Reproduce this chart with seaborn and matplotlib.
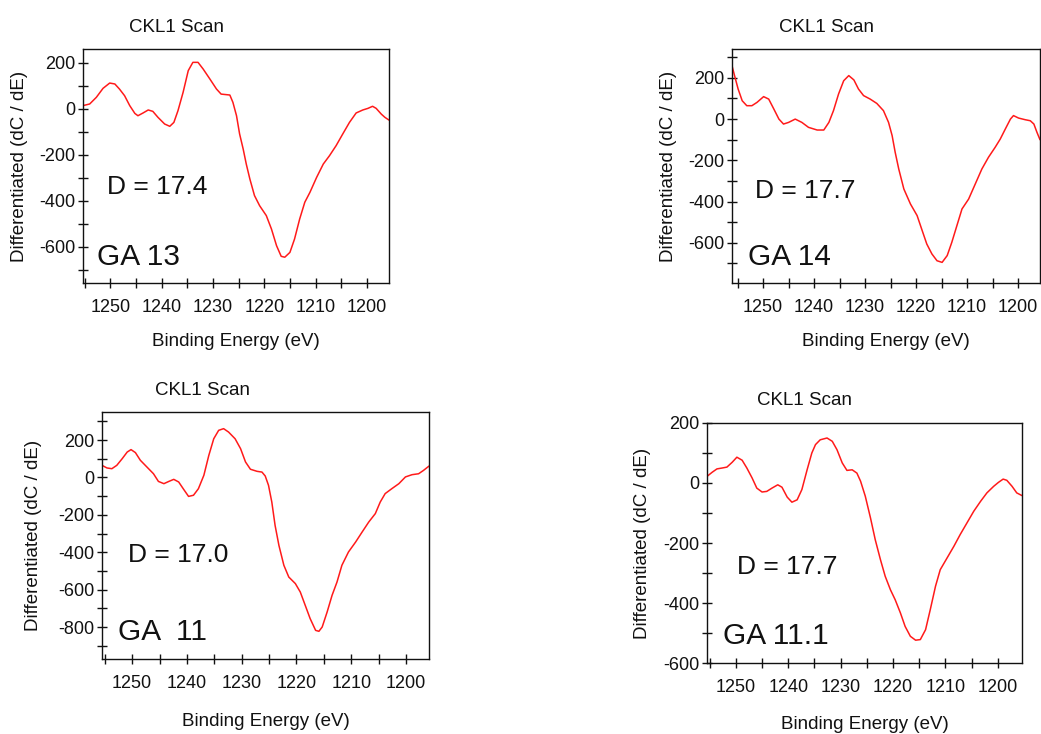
import numpy as np
import pandas as pd
import matplotlib
matplotlib.use("Agg")
import matplotlib.pyplot as plt
from matplotlib.ticker import MultipleLocator
import seaborn as sns

# ---------------- data ----------------
ga13_energy = [1255.3, 1254.0, 1252.7, 1251.4, 1250.1, 1249.1, 1248.2, 1247.2, 1246.2, 1245.2,
               1244.6, 1243.6, 1242.6, 1241.7, 1240.7, 1239.4, 1238.4, 1237.6, 1236.8, 1235.8,
               1234.8, 1233.9, 1232.9, 1231.9, 1230.6, 1229.3, 1228.4, 1226.7, 1226.1, 1225.4,
               1224.8, 1224.1, 1223.5, 1222.8, 1221.9, 1220.9, 1219.6, 1218.6, 1217.6, 1216.7,
               1216.0, 1215.0, 1214.1, 1213.1, 1212.1, 1211.1, 1209.8, 1208.5, 1207.3, 1206.0,
               1204.7, 1203.4, 1202.1, 1200.8, 1199.8, 1198.9, 1198.2, 1197.2, 1196.5, 1195.7]
ga13_signal = [14, 21, 50, 89, 112, 108, 86, 57, 14, -20,
               -30, -18, -5, -11, -37, -66, -76, -59, -8, 72,
               166, 202, 202, 173, 130, 86, 64, 60, 28, -30,
               -109, -175, -240, -305, -377, -421, -464, -522, -595, -641,
               -645, -624, -566, -479, -406, -363, -298, -240, -204, -160,
               -109, -59, -18, -5, 2, 11, 2, -23, -37, -49]

ga14_energy = [1256.1, 1255.6, 1254.9, 1254.1, 1253.2, 1252.2, 1251.2, 1249.9, 1248.9, 1247.9,
               1246.9, 1246.0, 1245.0, 1243.7, 1242.4, 1241.1, 1239.4, 1238.1, 1237.1, 1236.2,
               1235.2, 1234.2, 1233.2, 1232.2, 1231.3, 1230.3, 1229.0, 1227.7, 1226.4, 1225.4,
               1224.7, 1224.1, 1223.4, 1222.4, 1221.1, 1219.8, 1218.8, 1217.9, 1216.9, 1215.9,
               1214.9, 1213.9, 1213.0, 1212.0, 1211.0, 1209.7, 1208.4, 1207.1, 1205.8, 1204.5,
               1203.5, 1202.5, 1201.5, 1200.9, 1199.9, 1198.6, 1197.6, 1196.9, 1196.3, 1195.7]
ga14_signal = [259, 211, 146, 89, 65, 65, 81, 109, 97, 49,
               0, -24, -16, 0, -16, -40, -53, -53, -16, 41,
               122, 186, 211, 190, 146, 114, 97, 76, 41, -16,
               -80, -161, -242, -339, -412, -468, -541, -606, -654, -687,
               -695, -662, -598, -517, -436, -388, -315, -242, -185, -137,
               -97, -48, 0, 17, 5, -3, -8, -24, -64, -100]

ga11_energy = [1255.5, 1254.6, 1253.7, 1252.8, 1251.8, 1250.9, 1250.2, 1249.4, 1248.5, 1247.3,
               1246.1, 1245.2, 1244.2, 1243.3, 1242.4, 1241.5, 1240.6, 1239.7, 1238.8, 1237.9,
               1236.9, 1236.0, 1235.1, 1234.2, 1233.3, 1232.4, 1231.2, 1230.2, 1229.3, 1228.4,
               1227.2, 1226.3, 1225.7, 1225.1, 1224.5, 1223.9, 1223.2, 1222.3, 1221.4, 1220.2,
               1219.3, 1218.4, 1217.5, 1216.5, 1215.9, 1215.3, 1214.4, 1213.5, 1212.6, 1211.7,
               1210.5, 1209.2, 1208.0, 1206.8, 1205.6, 1204.7, 1203.8, 1202.6, 1201.3, 1200.1,
               1198.9, 1197.7, 1196.8, 1195.8]
ga11_signal = [65, 51, 47, 65, 101, 136, 149, 133, 92, 56,
               20, -21, -33, -21, -10, -24, -63, -101, -95, -60,
               12, 118, 207, 252, 261, 243, 207, 154, 83, 44,
               33, 29, 8, -42, -131, -256, -363, -469, -532, -567,
               -612, -683, -754, -817, -822, -799, -719, -630, -559, -469,
               -398, -345, -291, -238, -193, -131, -86, -60, -33, 3,
               15, 20, 38, 61]

ga111_energy = [1255.5, 1254.5, 1253.6, 1252.6, 1251.7, 1250.7, 1249.8, 1248.8, 1247.9, 1246.9,
                1246.0, 1245.0, 1244.1, 1243.1, 1242.0, 1241.2, 1240.2, 1239.3, 1238.3, 1237.4,
                1236.4, 1235.5, 1234.8, 1233.9, 1232.6, 1231.6, 1230.7, 1229.7, 1228.8, 1227.8,
                1226.9, 1226.2, 1225.3, 1224.3, 1223.4, 1222.4, 1221.5, 1220.5, 1219.6, 1218.6,
                1217.7, 1216.7, 1215.7, 1214.8, 1213.8, 1212.9, 1211.9, 1211.0, 1209.7, 1208.4,
                1207.2, 1205.9, 1204.6, 1203.3, 1202.1, 1200.8, 1199.9, 1199.0, 1198.3, 1197.3,
                1196.4, 1195.4]
ga111_signal = [22, 36, 47, 50, 53, 69, 86, 76, 50, 17,
                -17, -30, -28, -17, -6, -14, -47, -64, -56, -22,
                44, 100, 128, 144, 150, 139, 111, 67, 42, 44,
                33, 6, -44, -117, -189, -256, -311, -356, -389, -433,
                -478, -511, -524, -522, -489, -422, -344, -289, -250, -211,
                -172, -133, -94, -61, -33, -11, 2, 13, 9, -11,
                -33, -42]

sample_labels = ["GA 13", "GA 14", "GA  11", "GA 11.1"]
d_labels = ["D = 17.4", "D = 17.7", "D = 17.0", "D = 17.7"]
y_limits = [(-757, 260), (-795, 340), (-970, 350), (-600, 200)]
x_limits = [(1255.3, 1195.7), (1256.1, 1195.7), (1255.5, 1195.8), (1255.5, 1195.4)]

# ---------------- style ----------------
sns.set_style("white")
plt.rcParams["font.family"] = ["Liberation Sans", "DejaVu Sans"]
plt.rcParams["axes.unicode_minus"] = False
plt.rcParams["text.color"] = "#111111"
plt.rcParams["axes.labelcolor"] = "#111111"

W, H = 1041, 734
fig = plt.figure(figsize=(W / 100, H / 100), dpi=100)

# axes boxes in pixel coords: (left, right, top, bottom)
boxes = [(83, 389, 49, 283), (732, 1040, 49, 283), (102, 429, 412, 659), (707, 1022, 423, 663)]
title_pos = [(0.304, 1.09), (0.308, 1.09), (0.306, 1.089), (0.308, 1.092)]
xlabel_y = [-0.25, -0.25, -0.253, -0.256]
ylabel_x = [-0.209, -0.205, -0.208, -0.206]
d_pos = [(1250.6, -339), (1251.6, -349), (1250.8, -412), (1249.8, -281)]
ga_pos = [(1252.6, -643), (1253.0, -668), (1252.6, -827), (1252.4, -509)]

series = [(ga13_energy, ga13_signal), (ga14_energy, ga14_signal),
          (ga11_energy, ga11_signal), (ga111_energy, ga111_signal)]

for i, (l, r, t, b) in enumerate(boxes):
    ax = fig.add_axes([l / W, 1 - b / H, (r - l) / W, (b - t) / H])
    e, s = series[i]
    df = pd.DataFrame({"Binding Energy (eV)": e, "Differentiated (dC / dE)": s})
    sns.lineplot(data=df, x="Binding Energy (eV)", y="Differentiated (dC / dE)",
                 ax=ax, color="#ff1a1a", linewidth=1.1, sort=False,
                 solid_joinstyle="round", solid_capstyle="round")
    ax.set_xlim(*x_limits[i])
    ax.set_ylim(*y_limits[i])
    ax.xaxis.set_major_locator(MultipleLocator(10))
    ax.xaxis.set_minor_locator(MultipleLocator(5))
    ax.yaxis.set_major_locator(MultipleLocator(200))
    ax.yaxis.set_minor_locator(MultipleLocator(100))
    ax.tick_params(axis="both", which="both", direction="inout", length=7, width=1.0,
                   color="#111111", bottom=True, left=True, top=False, right=False)
    ax.tick_params(axis="x", which="major", labelsize=13, pad=8, labelcolor="#111111")
    ax.tick_params(axis="y", which="major", labelsize=13, pad=2, labelcolor="#111111")
    for sp in ax.spines.values():
        sp.set_visible(True)
        sp.set_color("#111111")
        sp.set_linewidth(1.0)
    ax.set_xlabel("Binding Energy (eV)", fontsize=13.5)
    ax.set_ylabel("Differentiated (dC / dE)", fontsize=13.5)
    ax.xaxis.set_label_coords(0.5, xlabel_y[i])
    ax.xaxis.label.set_va("center")
    ax.yaxis.set_label_coords(ylabel_x[i], 0.5)
    ax.yaxis.label.set_va("center")
    ax.set_title("CKL1 Scan", fontsize=13.5, x=title_pos[i][0], y=title_pos[i][1],
                 va="center", pad=0)
    ax.text(d_pos[i][0], d_pos[i][1], d_labels[i], fontsize=19, ha="left", va="center")
    ax.text(ga_pos[i][0], ga_pos[i][1], sample_labels[i], fontsize=21.5, ha="left", va="center")
    ax.grid(False)

fig.savefig("out.png", dpi=100)
